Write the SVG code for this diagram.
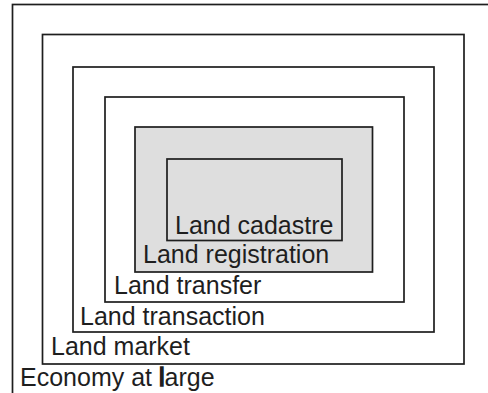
<svg xmlns="http://www.w3.org/2000/svg" width="488" height="393" viewBox="0 0 488 393">
  <style>
    .frame { fill: none; stroke: #1e1e1e; stroke-width: 1.7; }
    .shaded { fill: #dedede; stroke: #1e1e1e; stroke-width: 1.7; }
    .label { font-family: "Liberation Sans", Arial, sans-serif; font-size: 25px; fill: #1e1e1e; }
    .heavy { stroke: #1e1e1e; stroke-width: 1.6; }
  </style>
  <rect width="488" height="393" fill="#ffffff"/>

  <!-- nested layers, outermost first -->
  <g id="economy">
    <rect class="frame" x="12.5" y="4.5" width="490" height="400"/>
    <text class="label" x="20" y="386">Economy at <tspan class="heavy">l</tspan>arge</text>
  </g>
  <g id="market">
    <rect class="frame" x="42.5" y="34.5" width="421.5" height="329.5"/>
    <text class="label" x="51" y="355">Land market</text>
  </g>
  <g id="transaction">
    <rect class="frame" x="73" y="67" width="361" height="265"/>
    <text class="label" x="80" y="325">Land transaction</text>
  </g>
  <g id="transfer">
    <rect class="frame" x="105" y="97" width="299" height="205"/>
    <text class="label" x="114" y="294">Land transfer</text>
  </g>
  <g id="registration">
    <rect class="shaded" x="135" y="127" width="237.5" height="145"/>
    <text class="label" x="143" y="263">Land registration</text>
  </g>
  <g id="cadastre">
    <rect class="shaded" x="167" y="159" width="175" height="81.5"/>
    <text class="label" x="175" y="234">Land cadastre</text>
  </g>

  <g id="connectors"/>
</svg>
